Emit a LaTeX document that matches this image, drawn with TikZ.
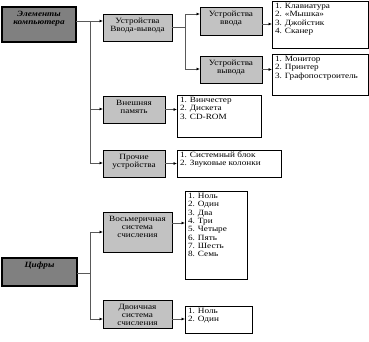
\documentclass[tikz,border=0pt]{standalone}
\usepackage{fontspec}
\setmainfont{Liberation Serif}[FakeStretch=1.15]
\usetikzlibrary{arrows.meta}
\definecolor{darkfill}{gray}{0.5}
\definecolor{lightfill}{gray}{0.76}
\definecolor{linkgray}{gray}{0.35}
% box texts: width, height, content (top aligned)
\newcommand{\cell}[3]{\parbox[t][#2pt][t]{#1pt}{\centering\rule{0pt}{9pt}#3}}
\newcommand{\items}[3]{\parbox[t][#2pt][t]{#1pt}{\raggedright\rule{0pt}{7.5pt}#3}}
\tikzset{
  darkbox/.style={draw, line width=1.1pt, fill=darkfill, anchor=north west, inner sep=0pt, outer sep=0pt, font=\fontsize{8}{8.3}\selectfont\bfseries\itshape},
  greybox/.style={draw, line width=0.9pt, fill=lightfill, anchor=north west, inner sep=0pt, outer sep=0pt},
  listbox/.style={draw, line width=0.9pt, fill=white, anchor=north west, inner xsep=3pt, inner ysep=0pt, outer sep=0pt},
  link/.style={draw=linkgray, line width=0.8pt},
  arr/.style={link, -{Latex[length=3.5pt,width=3pt,color=black]}}
}
\begin{document}
\begin{tikzpicture}[x=1pt, y=-1pt, every node/.style={font=\fontsize{8}{8.3}\selectfont}]
\useasboundingbox (0,0) rectangle (369,341);
% Elements of the computer
\node[darkbox] (comp) at (2,7) {\cell{74}{35}{Элементы\\компьютера}};
\node[greybox] (io) at (103,14) {\cell{69}{27}{Устройства\\Ввода-вывода}};
\node[greybox] (in) at (200,7) {\cell{62}{28}{Устройства\\ввода}};
\node[greybox] (out) at (200,56) {\cell{62}{27}{Устройства\\вывода}};
\node[listbox] (inlist) at (272,1) {\items{90}{47}{1. Клавиатура\\2. «Мышка»\\3. Джойстик\\4. Сканер}};
\node[listbox] (outlist) at (272,54) {\items{90}{41}{1. Монитор\\2. Принтер\\3. Графопостроитель}};
\node[greybox] (mem) at (103,96) {\cell{62}{27}{Внешняя\\память}};
\node[listbox] (memlist) at (177,95) {\items{78}{42}{1. Винчестер\\2. Дискета\\3. CD-ROM}};
\node[greybox] (other) at (103,150) {\cell{62}{27}{Прочие\\устройства}};
\node[listbox] (otherlist) at (177,150) {\items{98}{27}{1. Системный блок\\2. Звуковые колонки}};
% Digits
\node[darkbox] (digits) at (2,258) {\cell{75}{28}{Цифры}};
\node[greybox] (oct) at (103,212) {\cell{69}{40}{Восьмеричная\\система\\счисления}};
\node[listbox] (octlist) at (185,191) {\items{56}{88}{1. Ноль\\2. Один\\3. Два\\4. Три\\5. Четыре\\6. Пять\\7. Шесть\\8. Семь}};
\node[greybox] (bin) at (103,300) {\cell{69}{28}{Двоичная\\система\\счисления}};
\node[listbox] (binlist) at (185,306) {\items{61}{27}{1. Ноль\\2. Один}};
% junctions
\coordinate (j1) at (90,21);
\coordinate (b1) at (90,109);
\coordinate (b2) at (90,163);
\coordinate (j2) at (185,27);
\coordinate (c1) at (185,14);
\coordinate (c2) at (185,69);
\coordinate (j3) at (90,273);
\coordinate (d1) at (90,232);
\coordinate (d2) at (90,319);
% connectors
\draw[link] (comp.east |- j1) -- (j1);
\draw[link] (j1) -- (b2);
\draw[arr] (j1) -- (io.west |- j1);
\draw[arr] (b1) -- (mem.west |- b1);
\draw[arr] (b2) -- (other.west |- b2);
\draw[link] (io.east |- j2) -- (j2);
\draw[link] (c1) -- (c2);
\draw[arr] (c1) -- (in.west |- c1);
\draw[arr] (c2) -- (out.west |- c2);
\draw[arr] ([yshift=-3pt]in.east) -- ([yshift=-3pt]in.east -| inlist.west);
\draw[arr] (out.east) -- (out.east -| outlist.west);
\draw[arr] (mem.east) -- (mem.east -| memlist.west);
\draw[arr] (other.east) -- (other.east -| otherlist.west);
\draw[link] (digits.east |- j3) -- (j3);
\draw[link] (d1) -- (d2);
\draw[arr] (d1) -- (oct.west |- d1);
\draw[arr] (d2) -- (bin.west |- d2);
\draw[arr] ([yshift=9pt]oct.east) -- ([yshift=9pt]oct.east -| octlist.west);
\draw[arr] ([yshift=-5pt]bin.east) -- ([yshift=-5pt]bin.east -| binlist.west);
\end{tikzpicture}
\end{document}
